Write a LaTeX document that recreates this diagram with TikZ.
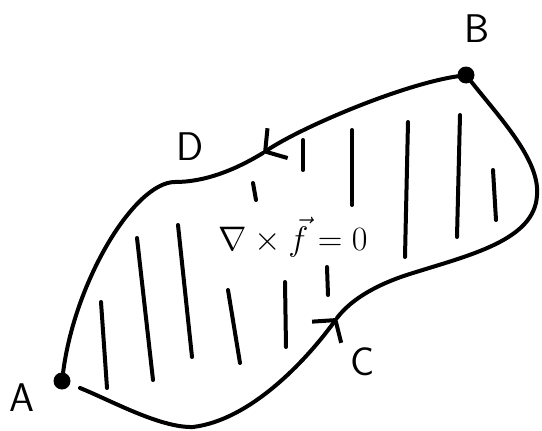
\documentclass[tikz,border=0pt]{standalone}
\usepackage{graphicx}
\usepackage{tikz}
\usetikzlibrary{arrows.meta,positioning}
\usepackage{xcolor}
\definecolor{Ink}{HTML}{000000}

\begin{document}
\begin{tikzpicture}[x=1pt,y=-1pt,line cap=round,line join=round,
    dot/.style={circle,fill=Ink,inner sep=0pt,minimum size=17pt},
    lbl/.style={inner sep=0pt,font=\fontsize{40}{44}\selectfont\sffamily,text=Ink},
    h/.style={draw=Ink,line width=4pt},
    a/.style={draw=Ink,line width=4pt,-{Straight Barb[length=15pt,width=36pt,line width=4pt]}}]
  \useasboundingbox (0,0) rectangle (542,431);
  % end points and labels
  \node[dot] (A) at (62,381) {}; \node[dot] (B) at (466,75) {};
  \node[lbl,left=19pt of A,yshift=-17pt] (lA) {A}; \node[lbl,above=24pt of B,xshift=11pt] (lB) {B};
  \node[lbl] (lD) at (190,147) {D}; \node[lbl] (lC) at (363,362) {C};
  \coordinate (d) at (263,153); \coordinate (c) at (337,318); \coordinate (a0) at (80,388);
  % upper path B -> D -> A
  \draw[a] (B) .. controls (400,85) and (300,128) .. (d);
  \draw[h] (d) .. controls (235,170) and (205,182) .. (175,182) .. controls (135,182) and (75,280) .. (A);
  % lower path A -> C -> B
  \draw[a] (a0) .. controls (110,400) and (160,428) .. (193,427) .. controls (250,420) and (305,362) .. (c);
  \draw[h] (c) .. controls (352,298) and (380,283) .. (413,273) .. controls (470,255) and (535,240) .. (537,195)
    .. controls (540,160) and (500,118) .. (B);
  % hatching
  \foreach \xa/\ya/\xb/\yb in {101/302/107/388, 137/238/153/380, 178/225/192/357, 228/290/240/363,
      285/282/286/347, 327/267/328/295, 253/183/256/200, 303/140/303/170, 352/130/352/205,
      408/122/405/257, 460/115/457/237, 493/170/496/220}
    \draw[h] (\xa,\ya) -- (\xb,\yb);
  \node[anchor=base,inner sep=0pt] (curl) at (293,250) {\scalebox{1.37}{\Huge$\nabla\times\vec{f}=0$}};
\end{tikzpicture}
\end{document}
